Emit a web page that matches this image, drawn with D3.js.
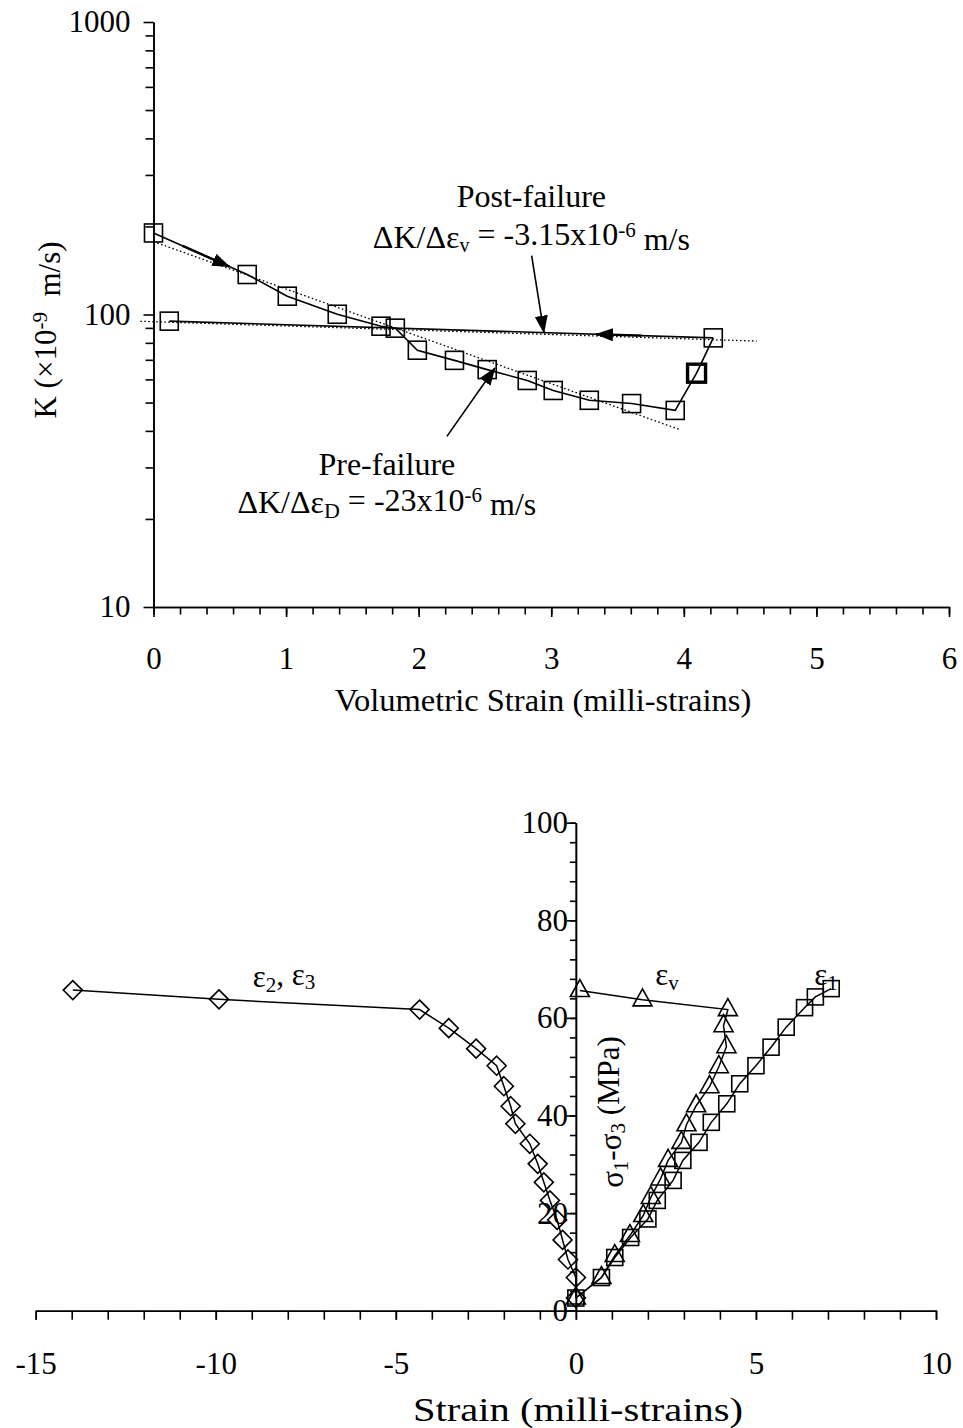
<!DOCTYPE html>
<html>
<head>
<meta charset="utf-8">
<script src="https://cdn.jsdelivr.net/npm/d3@7"></script>
<style>
  body { margin: 0; background: #fff; }
  svg { display: block; background: #fff; }
  text { font-family: "Liberation Serif", "Times New Roman", serif; fill: #000; }
</style>
</head>
<body>
<svg id="chart" width="963" height="1428"></svg>
<script>
// ---------- Permeability vs volumetric strain (top panel) ----------
// loading path, pre-failure through to failure and recovery
const kStrainLoad = [0, 0.707, 1.009, 1.386, 1.716, 1.824, 1.99, 2.27, 2.517, 2.819, 3.015, 3.287, 3.606, 3.935, 4.096, 4.222];
const kLoad       = [190, 137, 115.5, 100.2, 91.2, 89.8, 75.5, 69.7, 64.8, 59.5, 55, 50.9, 49.6, 47, 63, 83.2];
const kHeavyIndex = 14;            // point drawn with a heavier outline
// post-failure path
const kStrainPost = [4.222, 0.119];
const kPost       = [83.2, 94.9];
// fitted trends (straight on the log axis)
const preFitStrain  = [0, 3.97];
const preFitK       = [177.4, 40.4];
const postFitStrain = [-0.1, 4.55];
const postFitK      = [94.8, 81.1];
const kTicksX = [0, 1, 2, 3, 4, 5, 6];
const kTicksY = [10, 100, 1000];

// ---------- Stress vs strain (bottom panel) ----------
const latStrain = [0, 0, -0.22, -0.37, -0.52, -0.72, -0.89, -1.06, -1.28, -1.68, -1.81, -2.00, -2.20, -2.77, -3.53, -4.34, -9.91, -13.97];
const latStress = [2.6, 6.8, 10.5, 14.5, 18.6, 22.6, 26.3, 30.1, 34.2, 38.3, 41.9, 46.0, 50.2, 53.7, 57.9, 61.7, 63.8, 65.7];
const axStrain  = [0, 0.71, 1.08, 1.52, 2.00, 2.26, 2.70, 2.97, 3.42, 3.76, 4.19, 4.55, 5.00, 5.42, 5.84, 6.35, 6.65, 7.09];
const axStress  = [2.6, 6.8, 10.9, 15.0, 18.8, 22.6, 26.7, 30.8, 34.5, 38.6, 42.4, 46.5, 50.2, 54.0, 58.1, 62.1, 64.3, 66.0];
const volStrain = [0, 0.71, 1.08, 1.50, 1.87, 2.08, 2.35, 2.56, 2.93, 3.07, 3.34, 3.71, 3.97, 4.18, 4.10, 4.22, 1.85, 0.11];
const volStress = [2.6, 6.8, 11.3, 15.4, 19.5, 23.2, 27.0, 30.8, 34.5, 38.1, 42.0, 45.9, 50.0, 54.1, 58.4, 61.7, 63.7, 65.6];
const sTicksX = [-15, -10, -5, 0, 5, 10];
const sTicksY = [0, 20, 40, 60, 80, 100];

const FONT = 31;
const svg = d3.select('#chart');
const zip = (xs, ys) => xs.map((x, i) => [x, ys[i]]);
const plain = d => String(d);   // ASCII hyphen for negatives

// arrowhead marker
const defs = svg.append('defs');
defs.append('marker')
  .attr('id', 'head')
  .attr('markerUnits', 'userSpaceOnUse')
  .attr('viewBox', '0 -7 18 14')
  .attr('markerWidth', 18).attr('markerHeight', 14)
  .attr('refX', 17).attr('refY', 0)
  .attr('orient', 'auto')
  .append('path').attr('d', 'M0,-6.5L18,0L0,6.5Z').attr('fill', '#000');

function styleAxis(g, width) {
  g.selectAll('path.domain').attr('stroke', '#000').attr('stroke-width', width);
  g.selectAll('.tick line').attr('stroke', '#000').attr('stroke-width', width);
  g.selectAll('text').style('font-family', '"Liberation Serif","Times New Roman",serif')
    .style('font-size', FONT + 'px').attr('fill', '#000');
}

// ================= top panel =================
const xK = d3.scaleLinear().domain([0, 6]).range([153.5, 949]);
const yK = d3.scaleLog().domain([10, 1000]).range([607, 22]);
const gTop = svg.append('g');

// minor ticks
gTop.append('g').attr('transform', `translate(0,${yK(10)})`)
  .call(d3.axisBottom(xK).tickValues(d3.range(0, 6.001, 0.2)).tickSize(7.5).tickSizeOuter(0).tickFormat(''))
  .call(g => styleAxis(g, 1.6));
gTop.append('g').attr('transform', `translate(0,${yK(10)})`)
  .call(d3.axisBottom(xK).tickValues(kTicksX).tickSize(10).tickSizeOuter(0).tickPadding(30).tickFormat(plain))
  .call(g => styleAxis(g, 1.6));

const logMinor = [];
for (let dec = 10; dec < 1000; dec *= 10) for (let m = 2; m <= 9; m++) logMinor.push(dec * m);
gTop.append('g').attr('transform', `translate(${xK(0)},0)`)
  .call(d3.axisLeft(yK).tickValues(logMinor).tickSize(8).tickSizeOuter(0).tickFormat(''))
  .call(g => styleAxis(g, 1.6));
gTop.append('g').attr('transform', `translate(${xK(0)},0)`)
  .call(d3.axisLeft(yK).tickValues(kTicksY).tickSize(10).tickSizeOuter(0).tickPadding(13).tickFormat(plain))
  .call(g => styleAxis(g, 1.6));

// axis titles
gTop.append('text').attr('x', 543).attr('y', 711).attr('text-anchor', 'middle')
  .style('font-size', '32.5px').text('Volumetric Strain (milli-strains)');
const kTitle = gTop.append('text').attr('text-anchor', 'middle')
  .attr('transform', 'translate(56,330) rotate(-90)').style('font-size', FONT + 'px');
kTitle.append('tspan').text('K (\u00d710');
kTitle.append('tspan').attr('dy', '-0.42em').style('font-size', '21px').text('-9');
kTitle.append('tspan').attr('dy', '0.42em').text('\u00a0 m/s)');

const lineK = d3.line().x(d => xK(d[0])).y(d => yK(d[1]));

// fitted trends (dotted)
gTop.append('path').attr('d', lineK(zip(preFitStrain, preFitK)))
  .attr('fill', 'none').attr('stroke', '#000').attr('stroke-width', 1.3).attr('stroke-dasharray', '1.6,2.4');
gTop.append('path').attr('d', lineK(zip(postFitStrain, postFitK)))
  .attr('fill', 'none').attr('stroke', '#000').attr('stroke-width', 1.3).attr('stroke-dasharray', '1.6,2.4');

// measured paths
gTop.append('path').attr('d', lineK(zip(kStrainLoad, kLoad)))
  .attr('fill', 'none').attr('stroke', '#000').attr('stroke-width', 1.6);
gTop.append('path').attr('d', lineK(zip(kStrainPost, kPost)))
  .attr('fill', 'none').attr('stroke', '#000').attr('stroke-width', 1.6);

// direction arrows lying on the paths
function onLogSegment(x0, k0, x1, k1, x) {
  const t = (x - x0) / (x1 - x0);
  return Math.pow(10, Math.log10(k0) + t * (Math.log10(k1) - Math.log10(k0)));
}
const preTipX = 0.572;
gTop.append('path')
  .attr('d', lineK([[0.22, onLogSegment(kStrainLoad[0], kLoad[0], kStrainLoad[1], kLoad[1], 0.22)],
                    [preTipX, onLogSegment(kStrainLoad[0], kLoad[0], kStrainLoad[1], kLoad[1], preTipX)]]))
  .attr('stroke', '#000').attr('stroke-width', 2.4).attr('marker-end', 'url(#head)');
gTop.append('path')
  .attr('d', lineK([[3.68, onLogSegment(kStrainPost[0], kPost[0], kStrainPost[1], kPost[1], 3.68)],
                    [3.337, onLogSegment(kStrainPost[0], kPost[0], kStrainPost[1], kPost[1], 3.337)]]))
  .attr('stroke', '#000').attr('stroke-width', 2.4).attr('marker-end', 'url(#head)');

// square markers
const SQ = 18;
const allK = zip(kStrainLoad, kLoad).map((d, i) => ({ d, heavy: i === kHeavyIndex }))
  .concat(zip(kStrainPost, kPost).slice(1).map(d => ({ d, heavy: false })));
gTop.selectAll('rect.k').data(allK).join('rect').attr('class', 'k')
  .attr('x', p => xK(p.d[0]) - SQ / 2).attr('y', p => yK(p.d[1]) - SQ / 2)
  .attr('width', SQ).attr('height', SQ)
  .attr('fill', 'none').attr('stroke', '#000').attr('stroke-width', p => p.heavy ? 3.4 : 1.6);

// annotations
gTop.append('text').attr('x', xK(2.85)).attr('y', 207).attr('text-anchor', 'middle')
  .style('font-size', '32px').text('Post-failure');
const postEq = gTop.append('text').attr('x', xK(2.85)).attr('y', 248).attr('text-anchor', 'middle')
  .style('font-size', '32px');
postEq.append('tspan').text('\u0394K/\u0394\u03b5');
postEq.append('tspan').attr('dy', '0.22em').style('font-size', '20px').text('v');
postEq.append('tspan').attr('dy', '-0.22em').text(' = -3.15x10');
postEq.append('tspan').attr('dy', '-0.42em').style('font-size', '21px').text('-6');
postEq.append('tspan').attr('dy', '0.42em').text(' m/s');

gTop.append('path')
  .attr('d', lineK([[2.852, 159], [2.945, onLogSegment(kStrainPost[0], kPost[0], kStrainPost[1], kPost[1], 2.945)]]))
  .attr('stroke', '#000').attr('stroke-width', 1.6).attr('marker-end', 'url(#head)');

gTop.append('text').attr('x', xK(1.76)).attr('y', 475).attr('text-anchor', 'middle')
  .style('font-size', '32px').text('Pre-failure');
const preEq = gTop.append('text').attr('x', xK(1.76)).attr('y', 513).attr('text-anchor', 'middle')
  .style('font-size', '32px');
preEq.append('tspan').text('\u0394K/\u0394\u03b5');
preEq.append('tspan').attr('dy', '0.22em').style('font-size', '22px').text('D');
preEq.append('tspan').attr('dy', '-0.22em').text(' = -23x10');
preEq.append('tspan').attr('dy', '-0.42em').style('font-size', '21px').text('-6');
preEq.append('tspan').attr('dy', '0.42em').text(' m/s');

gTop.append('path')
  .attr('d', lineK([[2.213, 38.3], [2.575, 65.6]]))
  .attr('stroke', '#000').attr('stroke-width', 1.6).attr('marker-end', 'url(#head)');

// ================= bottom panel =================
const xS = d3.scaleLinear().domain([-15, 10]).range([35.7, 936]);
const yS = d3.scaleLinear().domain([0, 100]).range([1310.7, 822.7]);
const gBot = svg.append('g');

gBot.append('g').attr('transform', `translate(0,${yS(0)})`)
  .call(d3.axisBottom(xS).tickValues(d3.range(-15, 10.001, 1)).tickSize(9).tickSizeOuter(0).tickFormat(''))
  .call(g => styleAxis(g, 1.6));
gBot.append('g').attr('transform', `translate(0,${yS(0)})`)
  .call(d3.axisBottom(xS).tickValues(sTicksX).tickSize(9).tickSizeOuter(0).tickPadding(32).tickFormat(plain))
  .call(g => styleAxis(g, 1.6));

gBot.append('g').attr('transform', `translate(${xS(0)},0)`)
  .call(d3.axisLeft(yS).tickValues(d3.range(0, 100.001, 4)).tickSize(6).tickSizeOuter(0).tickFormat(''))
  .call(g => styleAxis(g, 1.6));
gBot.append('g').attr('transform', `translate(${xS(0)},0)`)
  .call(d3.axisLeft(yS).tickValues(sTicksY).tickSize(9).tickSizeOuter(0).tickPadding(-1).tickFormat(plain))
  .call(g => styleAxis(g, 1.6));

gBot.append('text').attr('x', 578).attr('y', 1421).attr('text-anchor', 'middle')
  .style('font-size', '33px').attr('textLength', 330).attr('lengthAdjust', 'spacingAndGlyphs')
  .text('Strain (milli-strains)');
const sTitle = gBot.append('text').attr('text-anchor', 'middle')
  .attr('transform', 'translate(623,1112) rotate(-90)').style('font-size', FONT + 'px');
sTitle.append('tspan').text('\u03c3');
sTitle.append('tspan').attr('dy', '0.22em').style('font-size', '21px').text('1');
sTitle.append('tspan').attr('dy', '-0.22em').text('-\u03c3');
sTitle.append('tspan').attr('dy', '0.22em').style('font-size', '21px').text('3');
sTitle.append('tspan').attr('dy', '-0.22em').text(' (MPa)');

const lineS = d3.line().x(d => xS(d[0])).y(d => yS(d[1]));
[[latStrain, latStress], [volStrain, volStress], [axStrain, axStress]].forEach(([xs, ys]) => {
  gBot.append('path').attr('d', lineS(zip(xs, ys)))
    .attr('fill', 'none').attr('stroke', '#000').attr('stroke-width', 1.5);
});

const diamond = 'M0,-9.5L9.5,0L0,9.5L-9.5,0Z';
const triangle = 'M0,-11L9.5,6L-9.5,6Z';
gBot.selectAll('path.lat').data(zip(latStrain, latStress)).join('path').attr('class', 'lat')
  .attr('d', diamond).attr('transform', d => `translate(${xS(d[0])},${yS(d[1])})`)
  .attr('fill', 'none').attr('stroke', '#000').attr('stroke-width', 1.6);
gBot.selectAll('path.vol').data(zip(volStrain, volStress)).join('path').attr('class', 'vol')
  .attr('d', triangle).attr('transform', d => `translate(${xS(d[0])},${yS(d[1])})`)
  .attr('fill', 'none').attr('stroke', '#000').attr('stroke-width', 1.6);
const SQB = 16;
gBot.selectAll('rect.ax').data(zip(axStrain, axStress)).join('rect').attr('class', 'ax')
  .attr('x', d => xS(d[0]) - SQB / 2).attr('y', d => yS(d[1]) - SQB / 2)
  .attr('width', SQB).attr('height', SQB)
  .attr('fill', 'none').attr('stroke', '#000').attr('stroke-width', 1.6);

// series labels
function epsLabel(x, y, sub) {
  const t = gBot.append('text').attr('x', x).attr('y', y).attr('text-anchor', 'middle').style('font-size', FONT + 'px');
  t.append('tspan').text('\u03b5');
  t.append('tspan').attr('dy', '0.22em').style('font-size', '21px').text(sub);
  return t;
}
const l23 = gBot.append('text').attr('x', 284).attr('y', 987).attr('text-anchor', 'middle').style('font-size', FONT + 'px');
l23.append('tspan').text('\u03b5');
l23.append('tspan').attr('dy', '0.22em').style('font-size', '21px').text('2');
l23.append('tspan').attr('dy', '-0.22em').text(', \u03b5');
l23.append('tspan').attr('dy', '0.22em').style('font-size', '21px').text('3');
epsLabel(667, 985, 'v');
epsLabel(826, 985, '1');
</script>
</body>
</html>
